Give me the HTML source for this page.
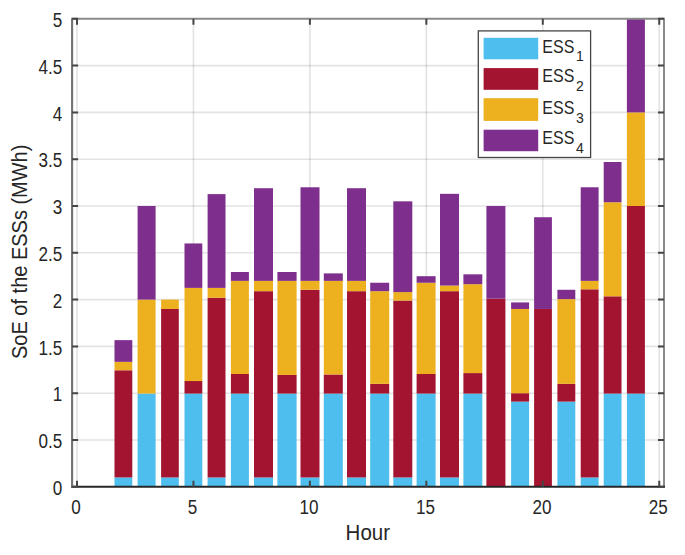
<!DOCTYPE html><html><head><meta charset="utf-8"><style>
html,body{margin:0;padding:0;background:#fff;}
svg{display:block;}
text{font-family:"Liberation Sans",sans-serif;fill:#262626;}
</style></head><body>
<svg width="685" height="555" viewBox="0 0 685 555">
<rect x="0" y="0" width="685" height="555" fill="#fff"/>
<path d="M77.00 18.80V486.80M193.45 18.80V486.80M309.90 18.80V486.80M426.35 18.80V486.80M542.80 18.80V486.80M659.25 18.80V486.80" stroke="#262626" stroke-opacity="0.13" stroke-width="1.6" fill="none"/>
<path d="M72.10 440.00H664.00M72.10 393.20H664.00M72.10 346.40H664.00M72.10 299.60H664.00M72.10 252.80H664.00M72.10 206.00H664.00M72.10 159.20H664.00M72.10 112.40H664.00M72.10 65.60H664.00" stroke="#262626" stroke-opacity="0.13" stroke-width="1.6" fill="none"/>
<rect x="114.50" y="477.44" width="17.80" height="9.36" fill="#4DBEEE"/>
<rect x="114.50" y="370.27" width="17.80" height="107.17" fill="#A2142F"/>
<rect x="114.50" y="361.84" width="17.80" height="8.42" fill="#EDB120"/>
<rect x="114.50" y="340.13" width="17.80" height="21.72" fill="#7E2F8E"/>
<rect x="137.60" y="393.57" width="18.00" height="93.23" fill="#4DBEEE"/>
<rect x="137.60" y="299.60" width="18.00" height="93.97" fill="#EDB120"/>
<rect x="137.60" y="206.00" width="18.00" height="93.60" fill="#7E2F8E"/>
<rect x="161.10" y="477.44" width="17.70" height="9.36" fill="#4DBEEE"/>
<rect x="161.10" y="308.96" width="17.70" height="168.48" fill="#A2142F"/>
<rect x="161.10" y="299.60" width="17.70" height="9.36" fill="#EDB120"/>
<rect x="184.50" y="393.57" width="17.80" height="93.23" fill="#4DBEEE"/>
<rect x="184.50" y="381.03" width="17.80" height="12.54" fill="#A2142F"/>
<rect x="184.50" y="287.90" width="17.80" height="93.13" fill="#EDB120"/>
<rect x="184.50" y="243.44" width="17.80" height="44.46" fill="#7E2F8E"/>
<rect x="207.60" y="477.44" width="17.90" height="9.36" fill="#4DBEEE"/>
<rect x="207.60" y="297.73" width="17.90" height="179.71" fill="#A2142F"/>
<rect x="207.60" y="287.90" width="17.90" height="9.83" fill="#EDB120"/>
<rect x="207.60" y="194.11" width="17.90" height="93.79" fill="#7E2F8E"/>
<rect x="230.90" y="393.57" width="18.00" height="93.23" fill="#4DBEEE"/>
<rect x="230.90" y="374.01" width="18.00" height="19.56" fill="#A2142F"/>
<rect x="230.90" y="280.88" width="18.00" height="93.13" fill="#EDB120"/>
<rect x="230.90" y="271.99" width="18.00" height="8.89" fill="#7E2F8E"/>
<rect x="254.00" y="477.44" width="19.00" height="9.36" fill="#4DBEEE"/>
<rect x="254.00" y="291.18" width="19.00" height="186.26" fill="#A2142F"/>
<rect x="254.00" y="280.88" width="19.00" height="10.30" fill="#EDB120"/>
<rect x="254.00" y="188.22" width="19.00" height="92.66" fill="#7E2F8E"/>
<rect x="277.40" y="393.57" width="19.20" height="93.23" fill="#4DBEEE"/>
<rect x="277.40" y="374.95" width="19.20" height="18.63" fill="#A2142F"/>
<rect x="277.40" y="280.88" width="19.20" height="94.07" fill="#EDB120"/>
<rect x="277.40" y="271.99" width="19.20" height="8.89" fill="#7E2F8E"/>
<rect x="300.50" y="477.44" width="19.00" height="9.36" fill="#4DBEEE"/>
<rect x="300.50" y="289.77" width="19.00" height="187.67" fill="#A2142F"/>
<rect x="300.50" y="280.88" width="19.00" height="8.89" fill="#EDB120"/>
<rect x="300.50" y="187.28" width="19.00" height="93.60" fill="#7E2F8E"/>
<rect x="323.80" y="393.57" width="19.00" height="93.23" fill="#4DBEEE"/>
<rect x="323.80" y="374.48" width="19.00" height="19.09" fill="#A2142F"/>
<rect x="323.80" y="280.88" width="19.00" height="93.60" fill="#EDB120"/>
<rect x="323.80" y="273.39" width="19.00" height="7.49" fill="#7E2F8E"/>
<rect x="347.00" y="477.44" width="19.00" height="9.36" fill="#4DBEEE"/>
<rect x="347.00" y="291.18" width="19.00" height="186.26" fill="#A2142F"/>
<rect x="347.00" y="280.88" width="19.00" height="10.30" fill="#EDB120"/>
<rect x="347.00" y="188.22" width="19.00" height="92.66" fill="#7E2F8E"/>
<rect x="370.20" y="393.57" width="19.00" height="93.23" fill="#4DBEEE"/>
<rect x="370.20" y="383.84" width="19.00" height="9.73" fill="#A2142F"/>
<rect x="370.20" y="291.18" width="19.00" height="92.66" fill="#EDB120"/>
<rect x="370.20" y="282.75" width="19.00" height="8.42" fill="#7E2F8E"/>
<rect x="393.30" y="477.44" width="19.00" height="9.36" fill="#4DBEEE"/>
<rect x="393.30" y="300.54" width="19.00" height="176.90" fill="#A2142F"/>
<rect x="393.30" y="292.11" width="19.00" height="8.42" fill="#EDB120"/>
<rect x="393.30" y="201.32" width="19.00" height="90.79" fill="#7E2F8E"/>
<rect x="416.60" y="393.57" width="19.00" height="93.23" fill="#4DBEEE"/>
<rect x="416.60" y="374.01" width="19.00" height="19.56" fill="#A2142F"/>
<rect x="416.60" y="282.75" width="19.00" height="91.26" fill="#EDB120"/>
<rect x="416.60" y="276.20" width="19.00" height="6.55" fill="#7E2F8E"/>
<rect x="440.00" y="477.44" width="19.00" height="9.36" fill="#4DBEEE"/>
<rect x="440.00" y="291.18" width="19.00" height="186.26" fill="#A2142F"/>
<rect x="440.00" y="285.56" width="19.00" height="5.62" fill="#EDB120"/>
<rect x="440.00" y="193.83" width="19.00" height="91.73" fill="#7E2F8E"/>
<rect x="463.40" y="393.57" width="18.90" height="93.23" fill="#4DBEEE"/>
<rect x="463.40" y="373.08" width="18.90" height="20.50" fill="#A2142F"/>
<rect x="463.40" y="284.16" width="18.90" height="88.92" fill="#EDB120"/>
<rect x="463.40" y="274.33" width="18.90" height="9.83" fill="#7E2F8E"/>
<rect x="486.40" y="298.66" width="19.00" height="188.14" fill="#A2142F"/>
<rect x="486.40" y="206.00" width="19.00" height="92.66" fill="#7E2F8E"/>
<rect x="511.10" y="401.62" width="18.00" height="85.18" fill="#4DBEEE"/>
<rect x="511.10" y="393.20" width="18.00" height="8.42" fill="#A2142F"/>
<rect x="511.10" y="308.96" width="18.00" height="84.24" fill="#EDB120"/>
<rect x="511.10" y="302.41" width="18.00" height="6.55" fill="#7E2F8E"/>
<rect x="534.10" y="308.96" width="17.80" height="177.84" fill="#A2142F"/>
<rect x="534.10" y="217.23" width="17.80" height="91.73" fill="#7E2F8E"/>
<rect x="557.40" y="401.62" width="17.90" height="85.18" fill="#4DBEEE"/>
<rect x="557.40" y="383.84" width="17.90" height="17.78" fill="#A2142F"/>
<rect x="557.40" y="299.13" width="17.90" height="84.71" fill="#EDB120"/>
<rect x="557.40" y="289.77" width="17.90" height="9.36" fill="#7E2F8E"/>
<rect x="580.70" y="477.44" width="17.90" height="9.36" fill="#4DBEEE"/>
<rect x="580.70" y="289.30" width="17.90" height="188.14" fill="#A2142F"/>
<rect x="580.70" y="280.88" width="17.90" height="8.42" fill="#EDB120"/>
<rect x="580.70" y="187.28" width="17.90" height="93.60" fill="#7E2F8E"/>
<rect x="603.70" y="393.57" width="17.80" height="93.23" fill="#4DBEEE"/>
<rect x="603.70" y="296.32" width="17.80" height="97.25" fill="#A2142F"/>
<rect x="603.70" y="202.26" width="17.80" height="94.07" fill="#EDB120"/>
<rect x="603.70" y="162.01" width="17.80" height="40.25" fill="#7E2F8E"/>
<rect x="626.90" y="393.57" width="18.00" height="93.23" fill="#4DBEEE"/>
<rect x="626.90" y="206.00" width="18.00" height="187.57" fill="#A2142F"/>
<rect x="626.90" y="112.40" width="18.00" height="93.60" fill="#EDB120"/>
<rect x="626.90" y="18.80" width="18.00" height="93.60" fill="#7E2F8E"/>
<path d="M72.10 486.80V18.80H664.00V486.80" stroke="#8a8a8a" stroke-width="2" fill="none"/>
<path d="M71.10 486.80H665.00" stroke="#262626" stroke-width="2" fill="none"/>
<path d="M72.10 486.80V18.80" stroke="#747474" stroke-width="2" fill="none"/>
<path d="M77.00 486.80v-6.00M77.00 18.80v6.00M193.45 486.80v-6.00M193.45 18.80v6.00M309.90 486.80v-6.00M309.90 18.80v6.00M426.35 486.80v-6.00M426.35 18.80v6.00M542.80 486.80v-6.00M542.80 18.80v6.00M659.25 486.80v-6.00M659.25 18.80v6.00M72.10 486.80h6.00M664.00 486.80h-6.00M72.10 440.00h6.00M664.00 440.00h-6.00M72.10 393.20h6.00M664.00 393.20h-6.00M72.10 346.40h6.00M664.00 346.40h-6.00M72.10 299.60h6.00M664.00 299.60h-6.00M72.10 252.80h6.00M664.00 252.80h-6.00M72.10 206.00h6.00M664.00 206.00h-6.00M72.10 159.20h6.00M664.00 159.20h-6.00M72.10 112.40h6.00M664.00 112.40h-6.00M72.10 65.60h6.00M664.00 65.60h-6.00M72.10 18.80h6.00M664.00 18.80h-6.00" stroke="#464646" stroke-width="2" fill="none"/>
<text transform="translate(76.10 514.00) scale(0.950 1.080)" font-size="18" text-anchor="middle">0</text>
<text transform="translate(192.55 514.00) scale(0.950 1.080)" font-size="18" text-anchor="middle">5</text>
<text transform="translate(309.00 514.00) scale(0.950 1.080)" font-size="18" text-anchor="middle">10</text>
<text transform="translate(425.45 514.00) scale(0.950 1.080)" font-size="18" text-anchor="middle">15</text>
<text transform="translate(541.90 514.00) scale(0.950 1.080)" font-size="18" text-anchor="middle">20</text>
<text transform="translate(658.35 514.00) scale(0.950 1.080)" font-size="18" text-anchor="middle">25</text>
<text transform="translate(62.30 495.00) scale(0.950 1.080)" font-size="18" text-anchor="end">0</text>
<text transform="translate(62.30 448.20) scale(0.950 1.080)" font-size="18" text-anchor="end">0.5</text>
<text transform="translate(62.30 401.40) scale(0.950 1.080)" font-size="18" text-anchor="end">1</text>
<text transform="translate(62.30 354.60) scale(0.950 1.080)" font-size="18" text-anchor="end">1.5</text>
<text transform="translate(62.30 307.80) scale(0.950 1.080)" font-size="18" text-anchor="end">2</text>
<text transform="translate(62.30 261.00) scale(0.950 1.080)" font-size="18" text-anchor="end">2.5</text>
<text transform="translate(62.30 214.20) scale(0.950 1.080)" font-size="18" text-anchor="end">3</text>
<text transform="translate(62.30 167.40) scale(0.950 1.080)" font-size="18" text-anchor="end">3.5</text>
<text transform="translate(62.30 120.60) scale(0.950 1.080)" font-size="18" text-anchor="end">4</text>
<text transform="translate(62.30 73.80) scale(0.950 1.080)" font-size="18" text-anchor="end">4.5</text>
<text transform="translate(62.30 27.00) scale(0.950 1.080)" font-size="18" text-anchor="end">5</text>
<text transform="translate(367.8 539.9) scale(1 1.06)" font-size="20.5" text-anchor="middle">Hour</text>
<text transform="translate(27.3 251.8) rotate(-90) scale(1 1.06)" font-size="20" text-anchor="middle">SoE of the ESSs (MWh)</text>
<rect x="478.30" y="30.90" width="112.30" height="126.60" fill="#fff" stroke="#444" stroke-width="1.3"/>
<rect x="483.6" y="37.80" width="54.6" height="21.50" fill="#4DBEEE"/>
<text transform="translate(542.3 52.85) scale(1 1.13)" font-size="16">ESS</text>
<text transform="translate(575.9 60.70) scale(1 1.02)" font-size="14">1</text>
<rect x="483.6" y="68.10" width="54.6" height="21.70" fill="#A2142F"/>
<text transform="translate(542.3 81.70) scale(1 1.13)" font-size="16">ESS</text>
<text transform="translate(575.9 91.20) scale(1 1.02)" font-size="14">2</text>
<rect x="483.6" y="98.20" width="54.6" height="22.70" fill="#EDB120"/>
<text transform="translate(542.3 113.50) scale(1 1.13)" font-size="16">ESS</text>
<text transform="translate(575.9 122.70) scale(1 1.02)" font-size="14">3</text>
<rect x="483.6" y="129.70" width="54.6" height="21.50" fill="#7E2F8E"/>
<text transform="translate(542.3 143.50) scale(1 1.13)" font-size="16">ESS</text>
<text transform="translate(575.9 152.50) scale(1 1.02)" font-size="14">4</text>
</svg></body></html>
